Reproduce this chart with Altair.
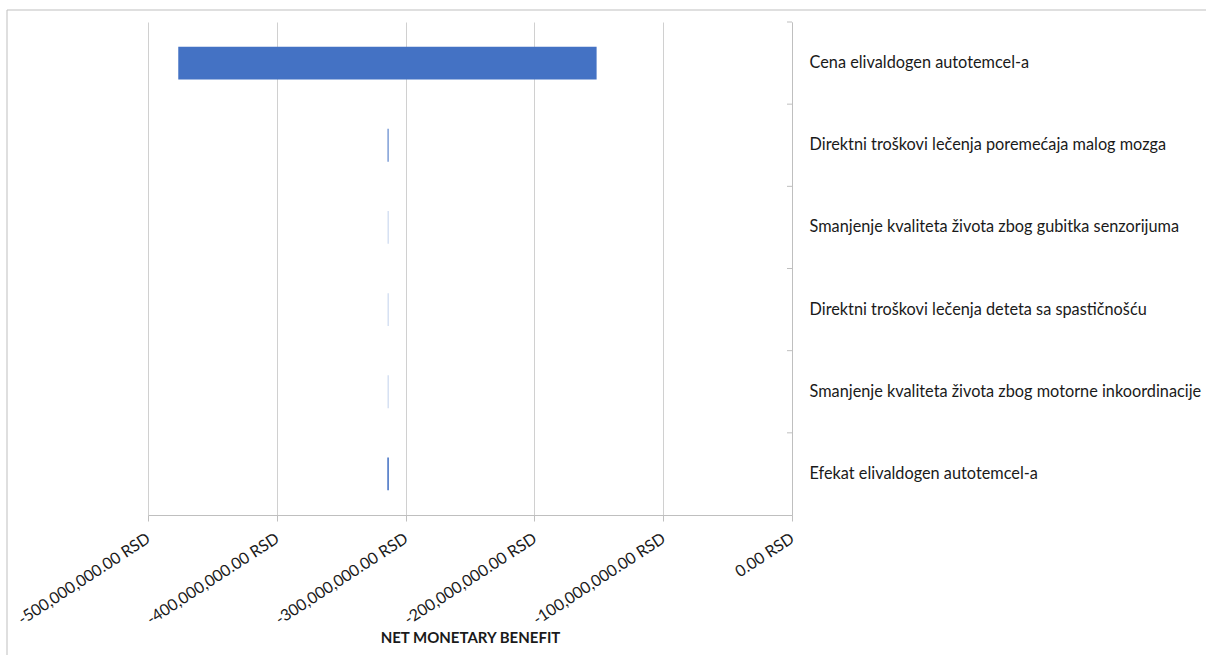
import altair as alt
import pandas as pd

# Tornado diagram: range of net monetary benefit per varied parameter
parameters = [
    "Cena elivaldogen autotemcel-a",
    "Direktni troškovi lečenja poremećaja malog mozga",
    "Smanjenje kvaliteta života zbog gubitka senzorijuma",
    "Direktni troškovi lečenja deteta sa spastičnošću",
    "Smanjenje kvaliteta života zbog motorne inkoordinacije",
    "Efekat elivaldogen autotemcel-a",
]
nmb_low = [-476.5e6, -314.0e6, -313.75e6, -313.75e6, -313.75e6, -314.2e6]
nmb_high = [-151.7e6, -313.2e6, -313.5e6, -313.5e6, -313.5e6, -313.0e6]
x_tick_values = [-500e6, -400e6, -300e6, -200e6, -100e6, 0]

df = pd.DataFrame({"parametar": parameters, "low": nmb_low, "high": nmb_high})
one = pd.DataFrame({"k": [0]})

FONT = "Lato"
GRID = "#d0d0d0"
LINE = "#bfbfbf"
TEXT = "#1a1a1a"

y_scale = alt.Scale(paddingInner=0, paddingOuter=0)
y_axis = alt.Axis(
    orient="right",
    title=None,
    ticks=False,
    grid=False,
    domainColor=LINE,
    labelPadding=17,
    labelFont=FONT,
    labelFontSize=16.3,
    labelColor=TEXT,
    labelLimit=500,
)

bars = alt.Chart(df).mark_bar(color="#4472c4", height=alt.RelativeBandSize(0.4)).encode(
    x=alt.X(
        "low:Q",
        scale=alt.Scale(domain=[-500e6, 0], nice=False),
        axis=alt.Axis(
            values=x_tick_values,
            labelExpr="replace(format(datum.value, ',.2f'), '\u2212', '-') + ' RSD'",
            labelAngle=-33,
            labelAlign="right",
            labelBaseline="top",
            labelPadding=9,
            labelOffset=-4,
            labelOverlap=False,
            labelFlush=False,
            labelFont=FONT,
            labelFontSize=16,
            labelColor=TEXT,
            tickSize=6,
            tickColor=LINE,
            domainColor=LINE,
            gridColor=GRID,
            title="NET MONETARY BENEFIT",
            titleFont=FONT,
            titleFontSize=15,
            titleFontWeight="bold",
            titleColor=TEXT,
            titleX=322,
            titleY=122,
            titleAlign="center",
            titleBaseline="middle",
        ),
    ),
    x2="high:Q",
    y=alt.Y("parametar:N", sort=parameters, scale=y_scale, axis=y_axis),
)

# short inward ticks on the category axis at the band boundaries
cat_ticks = alt.Chart(df).mark_rule(color=LINE).encode(
    y=alt.Y("parametar:N", sort=parameters, scale=y_scale, axis=y_axis, bandPosition=0),
    x=alt.value(639),
    x2=alt.value(644),
)

# outer frame of the chart area
frame_top = alt.Chart(one).mark_rule(color=LINE).encode(
    x=alt.value(-141), x2=alt.value(1070), y=alt.value(-12)
)
frame_left = alt.Chart(one).mark_rule(color=LINE).encode(
    x=alt.value(-141), y=alt.value(-12), y2=alt.value(640)
)

chart = (
    alt.layer(bars, cat_ticks, frame_top, frame_left)
    .properties(
        width=644,
        height=493,
        autosize=alt.AutoSizeParams(type="none"),
        padding={"left": 148, "top": 22, "right": 414, "bottom": 140},
        background="white",
    )
    .configure_view(stroke=None)
)

chart.save("out.html", embed_options={"renderer": "svg", "actions": False})
